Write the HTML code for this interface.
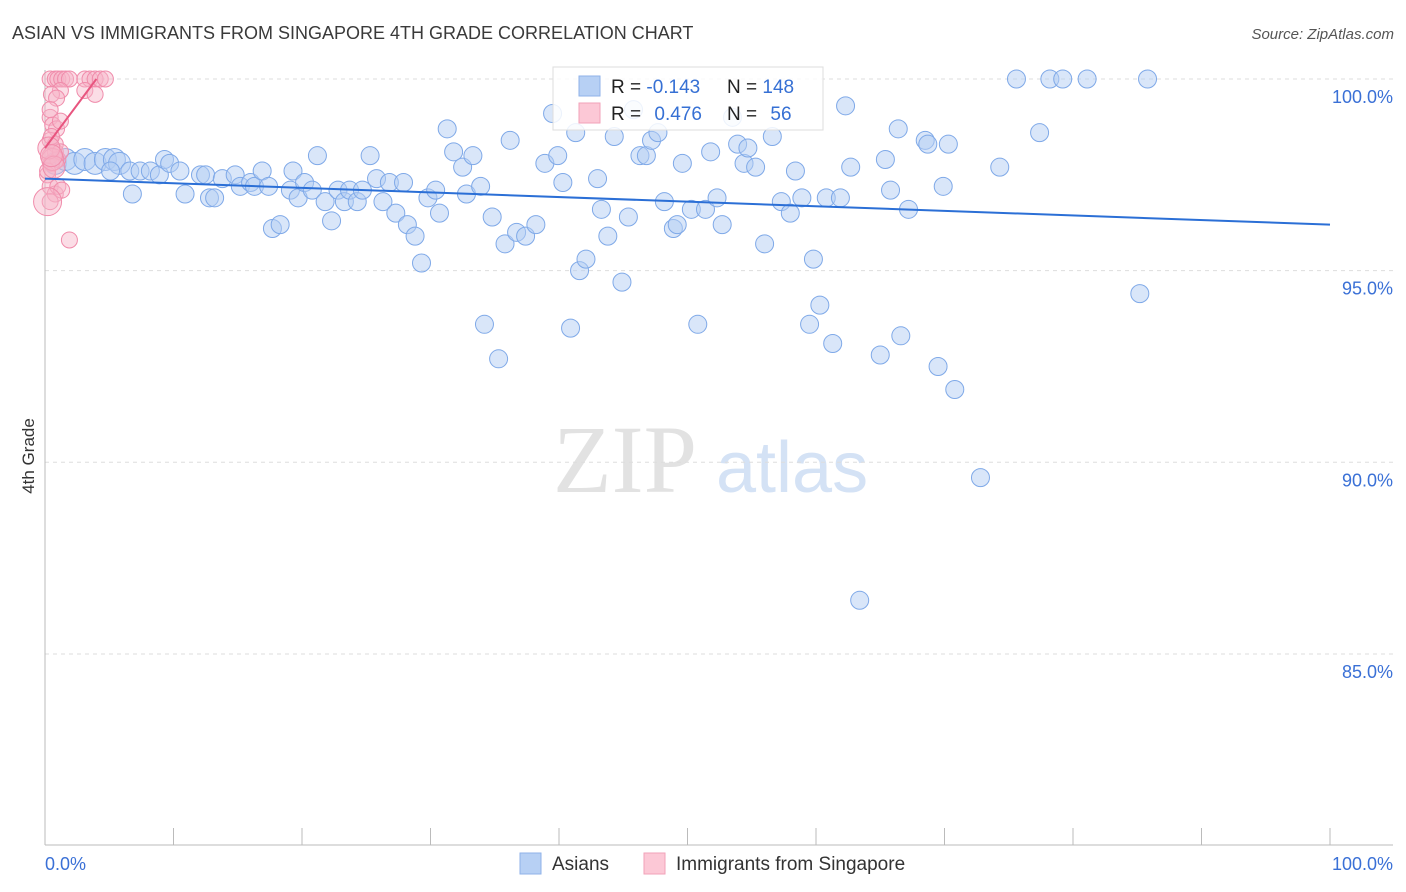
<!DOCTYPE html>
<html><head><meta charset="utf-8"><style>
body{margin:0;background:#fff;font-family:"Liberation Sans",sans-serif}
svg{display:block}
</style></head><body>
<svg id="c" width="1406" height="892">
<text x="12" y="39" font-size="18" fill="#3a3a3a">ASIAN VS IMMIGRANTS FROM SINGAPORE 4TH GRADE CORRELATION CHART</text>
<text x="1394" y="39" font-size="15" fill="#555" font-style="italic" text-anchor="end">Source: ZipAtlas.com</text>
<text transform="translate(34,456) rotate(-90)" font-size="17" fill="#333" text-anchor="middle">4th Grade</text>
<g>
<text x="553" y="492" font-size="96" font-family="Liberation Serif,serif" fill="#e2e2e2">ZIP</text>
<text x="716" y="492" font-size="72" fill="#d4e2f5">atlas</text>
</g>
<g id="grid"></g><g id="pts"></g><g id="lines"></g>
<g>
<rect x="553" y="67" width="270" height="63" fill="#fff" fill-opacity="0.85" stroke="#ddd"/>
<rect x="579" y="76" width="21" height="20" fill="#b7d0f4" stroke="#8fb2e8"/>
<rect x="579" y="103" width="21" height="20" fill="#fcc8d6" stroke="#f2a2b8"/>
<text x="611" y="93" font-size="19" fill="#222">R = <tspan fill="#3670d4">-0.143</tspan></text>
<text x="727" y="93" font-size="19" fill="#222">N = <tspan fill="#3670d4">148</tspan></text>
<text x="611" y="120" font-size="19" fill="#222">R = <tspan fill="#3670d4" dx="8">0.476</tspan></text>
<text x="727" y="120" font-size="19" fill="#222">N = <tspan fill="#3670d4" dx="8">56</tspan></text>
</g>
<g>
<rect x="520" y="853" width="21" height="21" fill="#b7d0f4" stroke="#8fb2e8"/>
<text x="552" y="870" font-size="19" fill="#333">Asians</text>
<rect x="644" y="853" width="21" height="21" fill="#fcc8d6" stroke="#f2a2b8"/>
<text x="676" y="870" font-size="19" fill="#333">Immigrants from Singapore</text>
</g>
</svg>
<script>
const yTicks=[100,95,90,85];
const yTickLabels=["100.0%","95.0%","90.0%","85.0%"];
const xTickLabels=["0.0%","100.0%"];
const blueX=[0.8,1.6,2.3,3.1,3.9,4.7,5.4,5.8,5.1,6.6,7.4,8.2,8.9,9.3,9.7,10.5,10.9,6.8,12.1,12.5,12.8,13.2,13.8,14.8,15.2,16.0,16.3,16.9,17.4,17.7,18.3,19.1,19.3,19.7,20.2,20.8,21.2,21.8,22.3,22.8,23.3,23.7,24.3,24.7,25.3,25.8,26.3,26.8,27.3,27.9,28.2,28.8,29.3,29.8,30.4,30.7,31.3,31.8,32.5,32.8,33.3,33.9,34.2,34.8,35.3,35.8,36.2,36.7,37.4,38.2,38.9,39.5,39.9,40.3,40.9,41.3,41.6,42.1,43.0,43.3,43.8,44.3,44.9,45.4,45.8,46.3,46.8,47.2,47.7,48.2,48.9,49.2,49.6,50.3,50.8,51.4,51.8,52.3,52.7,53.5,53.9,54.4,54.7,55.3,56.0,56.6,57.3,58.0,58.4,58.9,59.5,59.8,60.3,60.8,61.3,61.9,62.3,62.7,63.4,65.0,65.4,65.8,66.4,66.6,67.2,68.5,68.7,69.5,69.9,70.3,70.8,72.8,74.3,75.6,77.4,78.2,79.2,81.1,85.2,85.8];
const blueY=[97.8,97.9,97.8,97.9,97.8,97.9,97.9,97.8,97.6,97.6,97.6,97.6,97.5,97.9,97.8,97.6,97.0,97.0,97.5,97.5,96.9,96.9,97.4,97.5,97.2,97.3,97.2,97.6,97.2,96.1,96.2,97.1,97.6,96.9,97.3,97.1,98.0,96.8,96.3,97.1,96.8,97.1,96.8,97.1,98.0,97.4,96.8,97.3,96.5,97.3,96.2,95.9,95.2,96.9,97.1,96.5,98.7,98.1,97.7,97.0,98.0,97.2,93.6,96.4,92.7,95.7,98.4,96.0,95.9,96.2,97.8,99.1,98.0,97.3,93.5,98.6,95.0,95.3,97.4,96.6,95.9,98.5,94.7,96.4,99.2,98.0,98.0,98.4,98.6,96.8,96.1,96.2,97.8,96.6,93.6,96.6,98.1,96.9,96.2,99.0,98.3,97.8,98.2,97.7,95.7,98.5,96.8,96.5,97.6,96.9,93.6,95.3,94.1,96.9,93.1,96.9,99.3,97.7,86.4,92.8,97.9,97.1,98.7,93.3,96.6,98.4,98.3,92.5,97.2,98.3,91.9,89.6,97.7,100,98.6,100,100,100,94.4,100];
const pinkX=[0.4,0.8,1.0,1.3,1.6,1.9,1.2,0.5,0.9,0.4,0.6,0.9,1.2,0.4,0.8,0.4,1.0,0.5,0.2,0.4,0.8,0.4,1.0,1.3,1.9,3.1,3.5,3.9,4.3,4.7,3.1,3.9,0.4,0.8,0.2,1.2,0.5,0.2,0.6,0.3,0.7,0.5];
const pinkY=[100,100,100,100,100,100,99.7,99.6,99.5,99.0,98.8,98.7,98.9,98.4,98.1,98.0,97.9,97.8,97.5,97.2,97.0,96.8,97.2,97.1,95.8,100,100,100,100,100,99.7,99.6,99.2,98.3,97.6,98.1,98.5,96.8,97.9,98.2,97.7,98.0];
const blueTrend=[[0,97.4],[100,96.2]];
const pinkTrend=[[0,98.2],[4,100]];
const X=v=>45+v*12.85, Y=v=>79+(100-v)*38.33;
const NS="http://www.w3.org/2000/svg";
function mk(t,a,p){const e=document.createElementNS(NS,t);for(const k in a)e.setAttribute(k,a[k]);p.appendChild(e);return e;}
const grid=document.getElementById('grid');
yTicks.forEach((t,i)=>{
 const l=mk('line',{x1:45,x2:1393,y1:Y(t),y2:Y(t),stroke:'#ddd','stroke-dasharray':'4,4'},grid);
 
 
 const tx=mk('text',{x:1393,y:Y(t)+24,'font-size':18,fill:'#3a70d6','text-anchor':'end'},grid);
 tx.textContent=yTickLabels[i];
 
 
});
const ax=mk('line',{x1:45,x2:45,y1:70,y2:845,stroke:'#bbb'},grid);


const bx=mk('line',{x1:45,x2:1393,y1:845,y2:845,stroke:'#bbb'},grid);


for(let i=0;i<=10;i++){const t=mk('line',{x1:X(i*10),x2:X(i*10),y1:828,y2:845,stroke:'#bbb'},grid);
 
 }
[[0,'start',45],[1,'end',1393]].forEach(([i,a,x])=>{const t=mk('text',{x:x,y:870,'font-size':18,fill:'#3a70d6','text-anchor':a},grid);t.textContent=xTickLabels[i];
 
 });
const pts=document.getElementById('pts');
blueX.forEach((x,i)=>{const c=mk('circle',{cx:X(x),cy:Y(blueY[i]),r:i<8?11:9,fill:'#b3cef3','fill-opacity':0.5,stroke:'#7fa9e8','stroke-width':1},pts);
 
 });
pinkX.forEach((x,i)=>{const c=mk('circle',{cx:X(x),cy:Y(pinkY[i]),r:i==37?14:(i>=38?11:8),fill:'#f7b3c7','fill-opacity':0.45,stroke:'#f08cab','stroke-width':1},pts);
 
 });
const lines=document.getElementById('lines');
const bl=mk('line',{x1:X(blueTrend[0][0]),y1:Y(blueTrend[0][1]),x2:X(blueTrend[1][0]),y2:Y(blueTrend[1][1]),stroke:'#2b6fd6','stroke-width':2},lines);


const pl=mk('line',{x1:X(pinkTrend[0][0]),y1:Y(pinkTrend[0][1]),x2:X(pinkTrend[1][0]),y2:Y(pinkTrend[1][1]),stroke:'#e8557f','stroke-width':2},lines);


</script>
</body></html>
